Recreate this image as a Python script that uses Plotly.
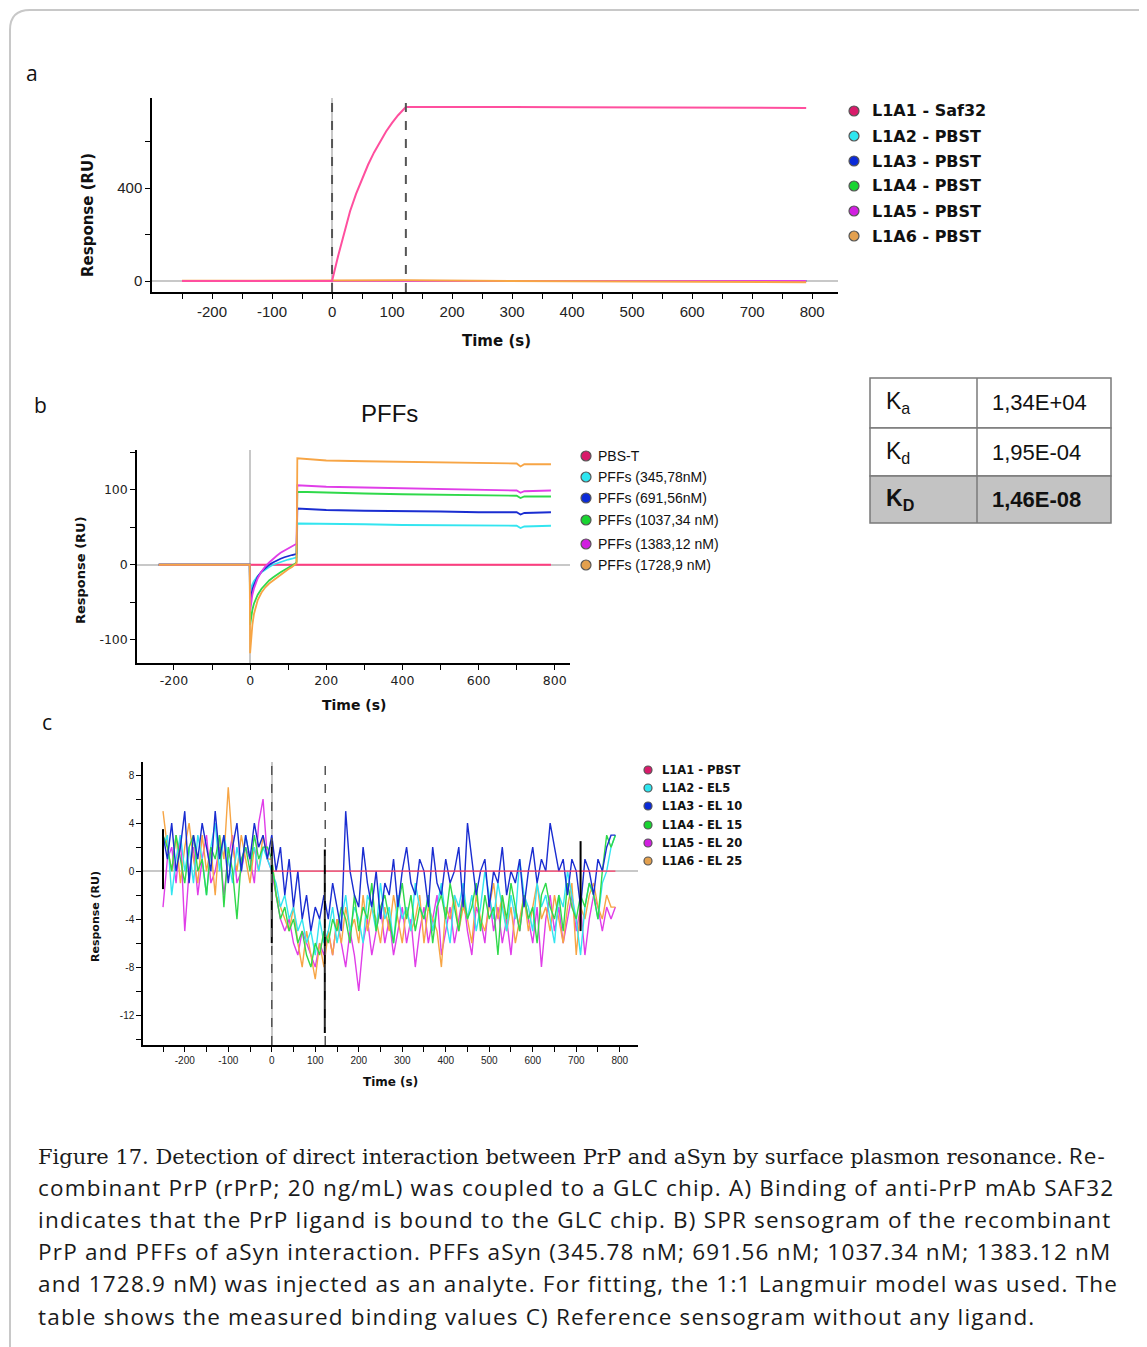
import plotly.graph_objects as go

# the page body adds an 8 px margin, so the figure is 8 px smaller and shifted
OFF = 8
W, H = 1147 - OFF, 1347 - OFF


def px(x):
    return (x - OFF) / W


def py(y):
    return 1 - (y - OFF) / H


# ---------------- data ----------------
# panel a: anti-PrP SAF32 binding
t_a_saf32 = [-250, -100, 0, 10, 20, 30, 40, 50, 60, 70, 80, 90, 100, 110, 123,
             200, 300, 400, 500, 600, 700, 790]
ru_a_saf32 = [0, 0, 0, 107, 210, 300, 375, 440, 500, 553, 600, 643, 680, 713, 748,
              749, 748, 747, 747, 746, 745, 744]
t_a_pbst = [-250, 0, 123, 400, 600, 790]
ru_a_pbst = [1, 1, 3, -1, -3, -5]

# panel b: PFFs sensogram
t_b = [-240, -150, -50, -1, 0, 3, 6, 10, 15, 20, 30, 40, 50, 60, 70, 80, 90, 100, 110, 120,
       122, 124, 150, 200, 300, 400, 500, 600, 700, 710, 720, 790]
ru_b_345 = [0, 0, 0, 0, -35, -30, -26, -22, -18, -15, -10, -6, -3, 0, 2, 4, 5, 7, 8, 9,
            10, 55, 55, 54, 54, 53, 53, 52, 52, 49, 51, 52]
ru_b_691 = [0, 0, 0, 0, -50, -40, -33, -27, -21, -16, -9, -4, 0, 3, 6, 8, 10, 12, 13, 14,
            15, 75, 74, 73, 72, 72, 71, 70, 70, 67, 69, 70]
ru_b_1037 = [0, 0, 0, 0, -80, -68, -60, -52, -45, -40, -32, -26, -21, -17, -13, -10, -7, -4, -1, 2,
             4, 97, 97, 96, 95, 94, 93, 92, 92, 89, 91, 91]
ru_b_1383 = [0, 0, 0, 0, -62, -50, -40, -32, -24, -18, -9, -2, 3, 8, 12, 16, 19, 22, 25, 27,
             28, 106, 105, 104, 103, 102, 101, 100, 99, 96, 98, 99]
ru_b_1728 = [0, 0, 0, 0, -118, -95, -80, -66, -55, -47, -37, -30, -25, -21, -17, -13, -9, -6, -3, 1,
             2, 142, 141, 139, 138, 137, 136, 135, 135, 131, 134, 134]
t_b_pbst = [-240, 790]
ru_b_pbst = [0, 0]

# panel c: reference sensogram without ligand (read every 10 s)
t_c = list(range(-250, 800, 10))
ru_c_el5 = [2, 3, -2, 1, 3, 0, 2, -1, 3, 1, -2, 2, 4, 0, 3, 1, -1, 2, 0, 3, 1, 2, 0, 2, 1,
            0, -1, -3, -2, -4, -3, -5, -4, -6, -5, -7, -4, -6,
            -5, -3, -6, -4, -2, -5, -3, -4, -6, -2, -3, -5, -1, -4, -3, -6, -2, -4, -3, -5,
            -1, -3, -4, -2, -5, -3, -1, -4, -6, -2, -3, -1, -4, -2, -5, -3, 0, -2, -4, -1,
            -3, -5, -2, -4, 1, -2, -3, -5, -1, -3, -2, -4, -6, -2, -3, 0, -2, -4, -7, -3,
            -1, -2, -4, -1, 0, 2, 3]
ru_c_el10 = [3, 1, 4, 0, 2, 5, -1, 3, 1, 4, 2, 0, 5, 1, 3, -1, 2, 4, 0, 3, 1, 4, 2, 3, 1,
             3, 0, 2, -2, 1, -3, 0, -4, -2, -5, -3, -4, -2,
             -4, -1, -3, -5, 5, 0, -2, -3, 2, -1, -3, 0, -4, -1, -2, 1, -3, 0, 2, -1,
             -2, 1, 0, -3, 2, -1, -2, 1, -1, 0, 2, -3, 4, 1, -2, 0, 1, -3, 0, -1,
             2, -2, 0, -1, 1, -3, 0, 2, -1, 1, 0, 4, 2, 0, 1, -2, 1, 0, -3, 1,
             0, -2, 1, 0, 2, 3, 3]
ru_c_el15 = [3, 2, 0, 3, 1, -1, 2, 3, 0, 1, -2, 2, 1, 3, -3, 2, 0, -4, 1, 2, 0, 3, 1, 2, 2,
             1, -2, -4, -3, -5, -4, -6, -5, -7, -8, -6, -7, -5,
             -6, -4, -5, -3, -4, -6, -2, -5, -3, -4, -1, -5, -3, -2, -4, -6, -3, -1, -4, -2,
             -5, -3, -4, -2, -6, -3, -2, -4, -1, -3, -5, -2, -4, -3, -1, -5, -2, -4, -3, -7,
             -2, -4, -1, -3, -5, -2, -4, -3, -6, -2, -1, -3, -4, -2, -5, -1, -3, -4, -2, -3,
             -1, -2, -4, 0, 3, 2, 3]
ru_c_el20 = [-3, 1, 2, -1, 3, -5, 0, 2, -2, 1, 3, -1, 0, 2, -2, 1, 3, -1, 0, 2, 1, -1, 4, 6, 1,
             0, -2, -4, -5, -4, -6, -7, -5, -6, -7, -8, -6, -7,
             -5, -7, -4, -6, -8, -5, -7, -10, -6, -4, -7, -5, -3, -6, -4, -7, -5, -3, -6, -4,
             -8, -5, -3, -6, -4, -2, -7, -5, -3, -6, -4, -2, -5, -7, -3, -4, -6, -2, -5, -3,
             -6, -4, -7, -3, -5, -2, -4, -6, -3, -8, -4, -2, -5, -3, -6, -4, -2, -5, -3, -7,
             -4, -2, -3, -5, -3, -4, -3]
ru_c_el25 = [5, 2, 0, 3, -1, 2, 4, 1, -1, 3, 0, 2, -2, 3, 1, 7, 2, 0, 3, 1, -1, 2, 0, 3, 1,
             1, -2, -3, -4, -5, -3, -6, -8, -5, -7, -9, -6, -8,
             -5, -7, -4, -6, -3, -5, -4, -6, -2, -5, -3, -4, -6, -3, -5, -2, -4, -6, -3, -5,
             -4, -2, -6, -3, -4, -5, -8, -3, -4, -2, -5, -3, -4, -6, -2, -4, -5, -3, -1, -4,
             -2, -5, -3, -6, -4, -2, -5, -3, -1, -4, -3, -5, -2, -4, -6, -3, -1, -7, -3, -4,
             -2, -1, -3, -4, -2, -3, -3]
t_c_pbst = [0, 790]
ru_c_pbst = [0, 0]
# injection markers (black squiggles)
t_c_inj = [-250, -250, None, 0, 0, None, 122, 122, None, 710, 710]
ru_c_inj = [-1.5, 3.5, None, -6, 2.5, None, -13.5, 1.8, None, -5, 2.5]

# tick values / labels (hyphen minus as in the original software export)
xt_100 = [-200, -100, 0, 100, 200, 300, 400, 500, 600, 700, 800]
xt_100_text = ['-200', '-100', '0', '100', '200', '300', '400', '500', '600', '700', '800']
xt_200 = [-200, 0, 200, 400, 600, 800]
xt_200_text = ['-200', '0', '200', '400', '600', '800']
yt_a = [0, 400]
yt_b = [-100, 0, 100]
yt_b_text = ['-100', '0', '100']
yt_c = [-12, -8, -4, 0, 4, 8]
yt_c_text = ['-12', '-8', '-4', '0', '4', '8']

legend_a = ['L1A1 - Saf32', 'L1A2 - PBST', 'L1A3 - PBST', 'L1A4 - PBST', 'L1A5 - PBST', 'L1A6 - PBST']
legend_b = ['PBS-T', 'PFFs (345,78nM)', 'PFFs (691,56nM)', 'PFFs (1037,34 nM)',
            'PFFs (1383,12 nM)', 'PFFs (1728,9 nM)']
legend_c = ['L1A1 - PBST', 'L1A2 - EL5', 'L1A3 - EL 10', 'L1A4 - EL 15', 'L1A5 - EL 20', 'L1A6 - EL 25']
marker_colors = ['#d81b6a', '#2ee6f0', '#0a2ad8', '#19d431', '#d11fe0', '#e3a04e']

table_labels = ['K<sub>a</sub>', 'K<sub>d</sub>', '<b>K<sub>D</sub></b>']
table_values = ['1,34E+04', '1,95E-04', '<b>1,46E-08</b>']

caption_title = 'Figure 17. Detection of direct interaction between PrP and aSyn by surface plasmon resonance.'
caption = [
    'Re-',
    'combinant PrP (rPrP; 20 ng/mL) was coupled to a GLC chip. A) Binding of anti-PrP mAb SAF32',
    'indicates that the PrP ligand is bound to the GLC chip. B) SPR sensogram of the recombinant',
    'PrP and PFFs of aSyn interaction. PFFs aSyn (345.78 nM; 691.56 nM; 1037.34 nM; 1383.12 nM',
    'and 1728.9 nM) was injected as an analyte. For fitting, the 1:1 Langmuir model was used. The',
    'table shows the measured binding values C) Reference sensogram without any ligand.',
]

PINK = '#ff4f9e'
CYAN = '#33e5f0'
BLUE = '#1a2dd1'
GREEN = '#2fd94a'
MAGENTA = '#e03ee8'
ORANGE = '#f7a545'

fig = go.Figure()

# panel a
for col in [CYAN, BLUE, GREEN, MAGENTA]:
    fig.add_trace(go.Scatter(x=t_a_pbst, y=[0] * len(t_a_pbst), mode='lines',
                             line=dict(color=col, width=2), xaxis='x', yaxis='y'))
fig.add_trace(go.Scatter(x=t_a_pbst, y=ru_a_pbst, mode='lines',
                         line=dict(color=ORANGE, width=2), xaxis='x', yaxis='y'))
fig.add_trace(go.Scatter(x=t_a_saf32, y=ru_a_saf32, mode='lines',
                         line=dict(color=PINK, width=2), xaxis='x', yaxis='y'))

# panel b
fig.add_trace(go.Scatter(x=t_b_pbst, y=ru_b_pbst, mode='lines',
                         line=dict(color='#ff3d7f', width=2), xaxis='x2', yaxis='y2'))
for vals, col in [(ru_b_345, CYAN), (ru_b_691, BLUE), (ru_b_1037, GREEN),
                  (ru_b_1383, MAGENTA), (ru_b_1728, ORANGE)]:
    fig.add_trace(go.Scatter(x=t_b, y=vals, mode='lines', line=dict(color=col, width=1.8),
                             xaxis='x2', yaxis='y2'))

# panel c
for vals, col in [(ru_c_el20, MAGENTA), (ru_c_el25, ORANGE), (ru_c_el5, CYAN),
                  (ru_c_el15, GREEN), (ru_c_el10, BLUE)]:
    fig.add_trace(go.Scatter(x=t_c, y=vals, mode='lines', line=dict(color=col, width=1.4),
                             xaxis='x3', yaxis='y3'))
fig.add_trace(go.Scatter(x=t_c_pbst, y=ru_c_pbst, mode='lines',
                         line=dict(color='#ff3d6a', width=1.4), xaxis='x3', yaxis='y3'))
fig.add_trace(go.Scatter(x=t_c_inj, y=ru_c_inj, mode='lines',
                         line=dict(color='black', width=2), xaxis='x3', yaxis='y3'))

axis_common = dict(showline=True, linecolor='black', linewidth=1.5, ticks='outside',
                   tickcolor='black', ticklen=5, showgrid=False, zeroline=True,
                   zerolinecolor='#c8c8c8', zerolinewidth=1.5, tickmode='array')


def minor(vals):
    return dict(tickmode='array', tickvals=vals, ticks='outside', ticklen=5, tickcolor='black')


fig.update_layout(
    xaxis=dict(axis_common, domain=[px(152), px(838)], range=[-300, 843], anchor='y',
               tickvals=xt_100, ticktext=xt_100_text,
               minor=minor([v - 50 for v in xt_100] + [750]),
               tickfont=dict(family='Liberation Sans', size=15, color='#222')),
    yaxis=dict(axis_common, domain=[py(292), py(98)], range=[-47, 787], anchor='x',
               tickvals=yt_a, ticktext=[str(v) for v in yt_a], minor=minor([200, 600]),
               tickfont=dict(family='Liberation Sans', size=15, color='#222')),
    xaxis2=dict(axis_common, domain=[px(137), px(570)], range=[-297, 840], anchor='y2',
                tickvals=xt_200, ticktext=xt_200_text,
                minor=minor([v + 100 for v in xt_200[:-1]]),
                tickfont=dict(family='DejaVu Sans', size=12.5, color='#222')),
    yaxis2=dict(axis_common, domain=[py(663), py(450)], range=[-131, 153], anchor='x2',
                tickvals=yt_b, ticktext=yt_b_text, minor=minor([-50, 50, 150]),
                tickfont=dict(family='DejaVu Sans', size=12.5, color='#222')),
    xaxis3=dict(axis_common, domain=[px(143), px(638)], range=[-296, 842], anchor='y3',
                tickvals=xt_100, ticktext=xt_100_text,
                minor=minor([v - 50 for v in xt_100] + [750]),
                tickfont=dict(family='Liberation Sans', size=10, color='#222')),
    yaxis3=dict(axis_common, domain=[py(1045), py(762)], range=[-14.5, 9.1], anchor='x3',
                tickvals=yt_c, ticktext=yt_c_text,
                minor=minor([v - 2 for v in yt_c] + [6]),
                tickfont=dict(family='Liberation Sans', size=10, color='#222')),
)

shapes = []
annotations = []

# injection start / end lines
for xr, yr, w in [('x', 'y domain', 2), ('x3', 'y3 domain', 1.5)]:
    for t in [0, 123]:
        shapes.append(dict(type='line', xref=xr, yref=yr, x0=t, x1=t, y0=0, y1=1,
                           line=dict(color='#555555', width=w, dash='dash')))

# legends
legend_specs = [
    (legend_a, 854, 870, [111, 136, 161, 186, 211, 236], 5, dict(family='DejaVu Sans', size=16, color='#111'), True),
    (legend_b, 586, 596, [456, 477, 498, 520, 544, 565], 5, dict(family='Liberation Sans', size=14, color='#111'), False),
    (legend_c, 648, 660, [770, 788, 806, 825, 843, 861], 4, dict(family='DejaVu Sans', size=11.5, color='#111'), True),
]
for names, mx, tx, rows, r, font, bold in legend_specs:
    for name, col, yy in zip(names, marker_colors, rows):
        shapes.append(dict(type='circle', xref='paper', yref='paper', xsizemode='pixel',
                           ysizemode='pixel', xanchor=px(mx), yanchor=py(yy),
                           x0=-r, x1=r, y0=-r, y1=r, fillcolor=col,
                           line=dict(color='#555', width=1.2)))
        annotations.append(dict(x=px(tx), y=py(yy), xref='paper', yref='paper',
                                text='<b>%s</b>' % name if bold else name,
                                xanchor='left', yanchor='middle', showarrow=False, font=font))

# axis titles
for text, x, y, size, angle in [
    ('Response (RU)', 88, 215, 15, -90), ('Time (s)', 496, 341, 15, 0),
    ('Response (RU)', 80, 570, 13, -90), ('Time (s)', 354, 705, 14, 0),
    ('Response (RU)', 95, 917, 11, -90), ('Time (s)', 390, 1082, 12, 0),
]:
    annotations.append(dict(x=px(x), y=py(y), xref='paper', yref='paper', text='<b>%s</b>' % text,
                            textangle=angle, showarrow=False, xanchor='center', yanchor='middle',
                            font=dict(family='DejaVu Sans', size=size, color='#111')))

# panel letters and title
for text, x, y in [('a', 32, 73), ('b', 40, 405), ('c', 47, 722)]:
    annotations.append(dict(x=px(x), y=py(y), xref='paper', yref='paper', text=text,
                            showarrow=False, xanchor='center', yanchor='middle',
                            font=dict(family='Open Sans', size=21, color='#111')))
annotations.append(dict(x=px(389), y=py(413), xref='paper', yref='paper', text='PFFs',
                        showarrow=False, xanchor='center', yanchor='middle',
                        font=dict(family='Liberation Sans', size=24, color='#111')))

# table
row_edges = [378, 428, 476, 523]
col_edges = [870, 977, 1111]
row_fills = ['white', 'white', '#c3c3c3']
for i in range(len(table_labels)):
    y0, y1 = row_edges[i], row_edges[i + 1]
    shapes.append(dict(type='rect', xref='paper', yref='paper', x0=px(col_edges[0]), x1=px(col_edges[2]),
                       y0=py(y1), y1=py(y0), fillcolor=row_fills[i], line=dict(color='#7a7a7a', width=1.5),
                       layer='below'))
    yc = (y0 + y1) / 2
    annotations.append(dict(x=px(884), y=py(yc), xref='paper', yref='paper', text=table_labels[i],
                            showarrow=False, xanchor='left', yanchor='middle',
                            font=dict(family='Liberation Sans', size=23, color='#111')))
    annotations.append(dict(x=px(990), y=py(yc), xref='paper', yref='paper', text=table_values[i],
                            showarrow=False, xanchor='left', yanchor='middle',
                            font=dict(family='Liberation Sans', size=22, color='#111')))
shapes.append(dict(type='line', xref='paper', yref='paper', x0=px(col_edges[1]), x1=px(col_edges[1]),
                   y0=py(row_edges[-1]), y1=py(row_edges[0]), line=dict(color='#7a7a7a', width=1.5)))

# caption
spaced = '<span style="letter-spacing:1.2px">%s</span>'
annotations.append(dict(x=px(36), y=py(1155), xref='paper', yref='paper',
                        text='<span style="font-family:DejaVu Serif;font-size:21px">%s</span> %s'
                             % (caption_title, spaced % caption[0]),
                        showarrow=False, xanchor='left', yanchor='middle',
                        font=dict(family='Open Sans', size=22.5, color='#1a1a1a')))
for i, line in enumerate(caption[1:], start=1):
    annotations.append(dict(x=px(36), y=py(1155 + 32.2 * i), xref='paper', yref='paper',
                            text=spaced % line, showarrow=False, xanchor='left', yanchor='middle',
                            font=dict(family='Open Sans', size=22.5, color='#1a1a1a')))

# outer rounded frame
shapes.append(dict(type='path', xref='paper', yref='paper',
                   path='M %f,%f L %f,%f Q %f,%f %f,%f L %f,%f' % (
                       px(10), py(1360), px(10), py(30), px(10), py(10), px(30), py(10), px(1160), py(10)),
                   line=dict(color='#c8c8c8', width=2)))

fig.update_layout(
    width=W, height=H, margin=dict(l=0, r=0, t=0, b=0),
    paper_bgcolor='white', plot_bgcolor='white', showlegend=False,
    shapes=shapes, annotations=annotations,
)

fig.write_html('out.html')
